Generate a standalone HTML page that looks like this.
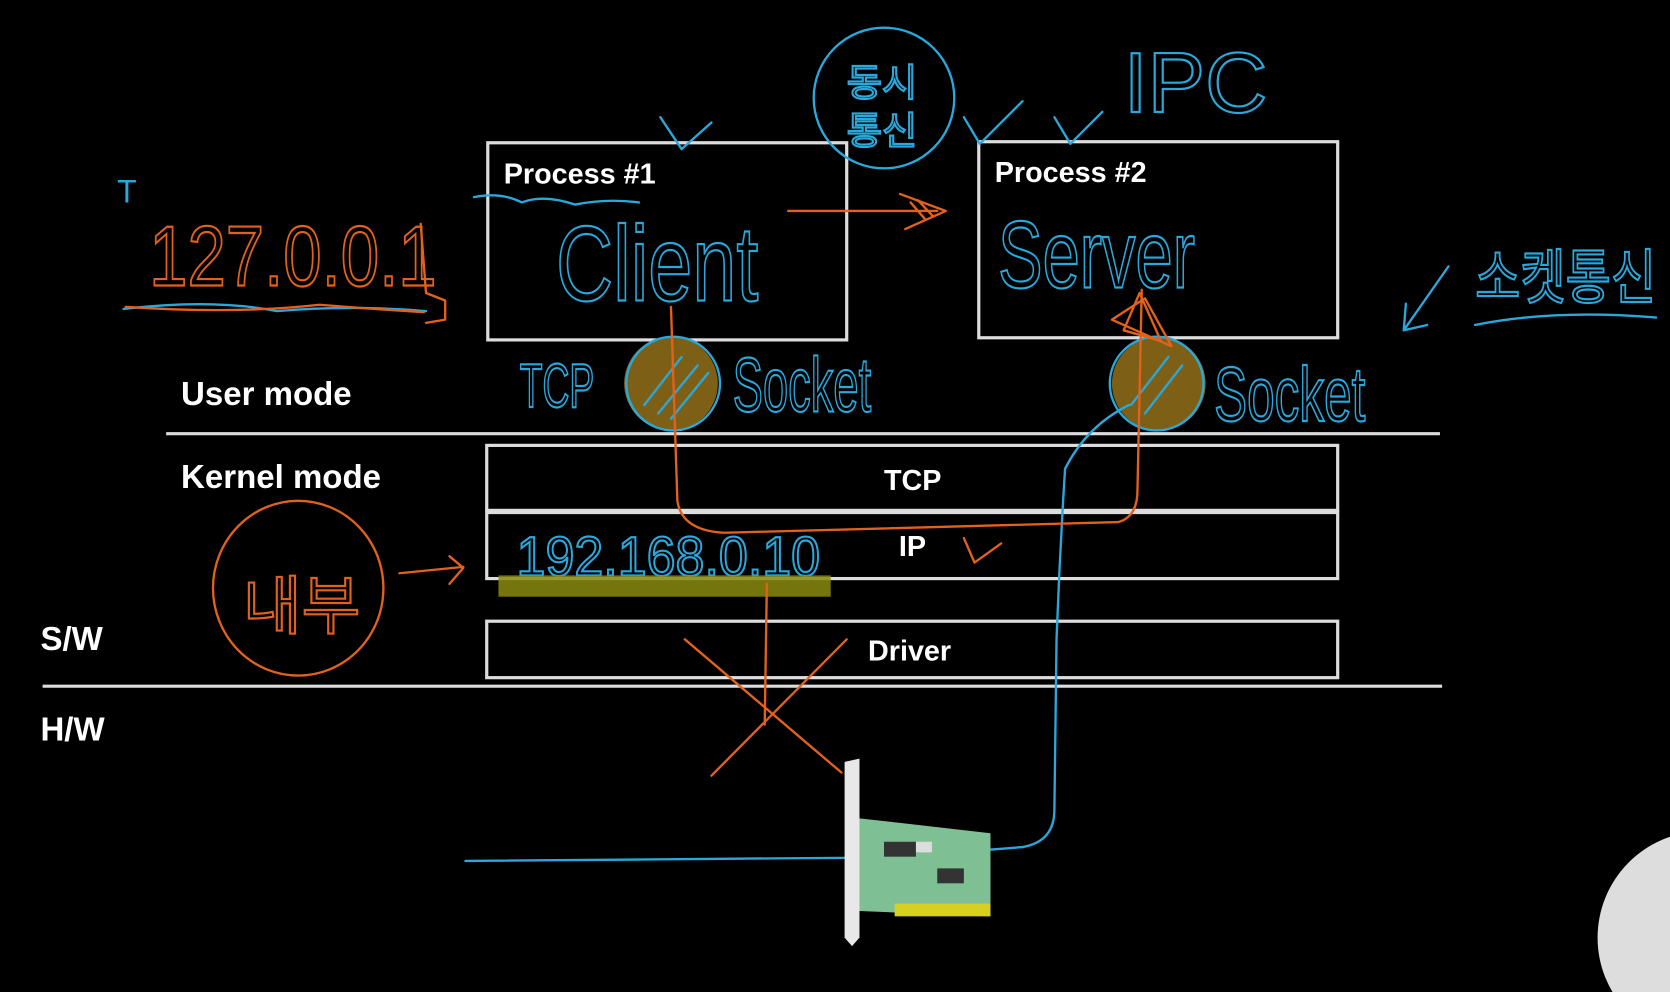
<!DOCTYPE html>
<html><head><meta charset="utf-8"><style>
html,body{margin:0;padding:0;background:#000;width:1670px;height:992px;overflow:hidden}
svg{display:block;position:absolute;left:0;top:0}
.w{fill:#fff;font-family:"Liberation Sans","Noto Sans CJK KR",sans-serif}
.b{fill:none;stroke:#2aa8dc;stroke-width:2.2;stroke-linecap:round;stroke-linejoin:round}
.o{fill:none;stroke:#e2621d;stroke-width:2.2;stroke-linecap:round;stroke-linejoin:round}
.bt{fill:none;stroke:#2aa8dc;stroke-width:2;font-family:"Liberation Sans","Noto Sans CJK KR",sans-serif}
.ot{fill:none;stroke:#e2621d;stroke-width:2;font-family:"Liberation Sans","Noto Sans CJK KR",sans-serif}
</style></head><body>
<svg width="1670" height="992" viewBox="0 0 1568 931" preserveAspectRatio="none">
<rect width="1568" height="931" fill="#000"/>
<g fill="none" stroke="#ddd" stroke-width="3">
<rect x="458" y="134" width="337" height="185"/>
<rect x="919" y="133" width="337" height="184"/>
<rect x="457" y="418" width="799" height="61"/>
<rect x="457" y="481" width="799" height="62"/>
<rect x="457" y="583" width="799" height="53"/>
</g>
<line x1="156" y1="407" x2="1352" y2="407" stroke="#ddd" stroke-width="3"/>
<line x1="40" y1="644" x2="1354" y2="644" stroke="#ddd" stroke-width="3"/>
<g class="w" font-size="27" font-weight="bold">
<text x="473" y="172">Process #1</text>
<text x="934" y="171">Process #2</text>
<text x="170" y="380" font-size="31">User mode</text>
<text x="170" y="458" font-size="31">Kernel mode</text>
<text x="830" y="460">TCP</text>
<text x="844" y="522">IP</text>
<text x="815" y="620">Driver</text>
<text x="38" y="610" font-size="31">S/W</text>
<text x="38" y="695" font-size="31">H/W</text>
</g>
<circle cx="630" cy="360" r="44" fill="#7e5f16"/>
<circle cx="1088" cy="360" r="44" fill="#7e5f16"/>
<g class="b">
<circle cx="632" cy="360" r="44"/><circle cx="1086" cy="360" r="44"/>
<path d="M605 380 L640 335 M618 388 L655 343 M630 393 L665 350"/>
<path d="M1062 380 L1097 335 M1075 388 L1110 343"/>
<circle cx="830" cy="92" r="66"/>
<path d="M620 110 L640 140 L668 115 M905 110 L920 135 L960 95 M990 110 L1005 135 L1035 105"/>
<path d="M1318 310 L1360 250 M1318 310 L1320 285 M1318 310 L1340 305"/>
<path d="M1385 305 Q1460 290 1555 298"/>
<path d="M445 185 Q470 180 490 190 Q510 182 540 192 Q570 186 600 190"/>
<path d="M116 290 Q200 280 260 292 Q330 286 400 292"/>
<path d="M437 808 L800 805 Q900 800 960 795 Q990 790 990 760 L992 600 Q995 520 1000 440 Q1020 400 1060 380"/>
</g>
<g class="bt">
<text x="522" y="282" font-size="100" textLength="190" lengthAdjust="spacingAndGlyphs">Client</text>
<text x="937" y="270" font-size="90" textLength="185" lengthAdjust="spacingAndGlyphs">Server</text>
<text x="688" y="386" font-size="72" textLength="130" lengthAdjust="spacingAndGlyphs">Socket</text>
<text x="1140" y="395" font-size="72" textLength="142" lengthAdjust="spacingAndGlyphs">Socket</text>
<text x="488" y="382" font-size="58" textLength="70" lengthAdjust="spacingAndGlyphs">TCP</text>
<text x="1055" y="105" font-size="80" textLength="135" lengthAdjust="spacingAndGlyphs">IPC</text>
<text x="485" y="540" font-size="52" textLength="285" lengthAdjust="spacingAndGlyphs">192.168.0.10</text>
<text x="795" y="90" font-size="36">동시</text>
<text x="795" y="135" font-size="36">통신</text>
<text x="1385" y="280" font-size="56" textLength="170" lengthAdjust="spacingAndGlyphs">소켓통신</text>
</g>
<rect x="468" y="540" width="312" height="20" fill="#8a8a10" opacity="0.85"/>
<g class="o">
<path d="M740 198 L880 198 M845 182 L888 198 L850 215 M855 190 L868 205 M862 188 L876 203"/>
<path d="M630 288 L636 470 Q640 498 680 500 L1050 490 Q1068 485 1068 460 L1072 272 M1055 310 L1070 275 L1090 320 Z"/>
<path d="M1044 300 L1075 280 L1100 325 Z"/>
<path d="M720 548 L718 680 M643 600 L790 725 M795 600 L668 728"/>
<path d="M905 505 L915 528 L940 510"/>
<path d="M375 538 L435 532 M422 522 L435 533 L422 548"/>
<ellipse cx="280" cy="552" rx="80" ry="82"/>
<path d="M395 210 L400 275 L418 282 L418 300 L400 303"/>
<path d="M118 288 Q220 295 300 286 Q350 290 398 293"/>
</g>
<g class="ot">
<text x="140" y="268" font-size="80" textLength="270" lengthAdjust="spacingAndGlyphs">127.0.0.1</text>
<text x="228" y="590" font-size="60">내부</text>
</g>
<text x="110" y="190" fill="#2aa8dc" font-size="30" font-family="Liberation Sans,sans-serif">T</text>
<path d="M793 715 L807 712 L807 880 L800 888 L793 880 Z" fill="#e8e8e8"/>
<path d="M807 768 L930 782 L930 860 L807 855 Z" fill="#7fbf94"/>
<rect x="840" y="848" width="90" height="12" fill="#d8d020"/>
<rect x="830" y="790" width="30" height="14" fill="#333"/>
<rect x="880" y="815" width="25" height="14" fill="#333"/>
<rect x="860" y="790" width="15" height="10" fill="#ddd"/>
<circle cx="1600" cy="880" r="100" fill="#ddd"/>
</svg>
</body></html>
